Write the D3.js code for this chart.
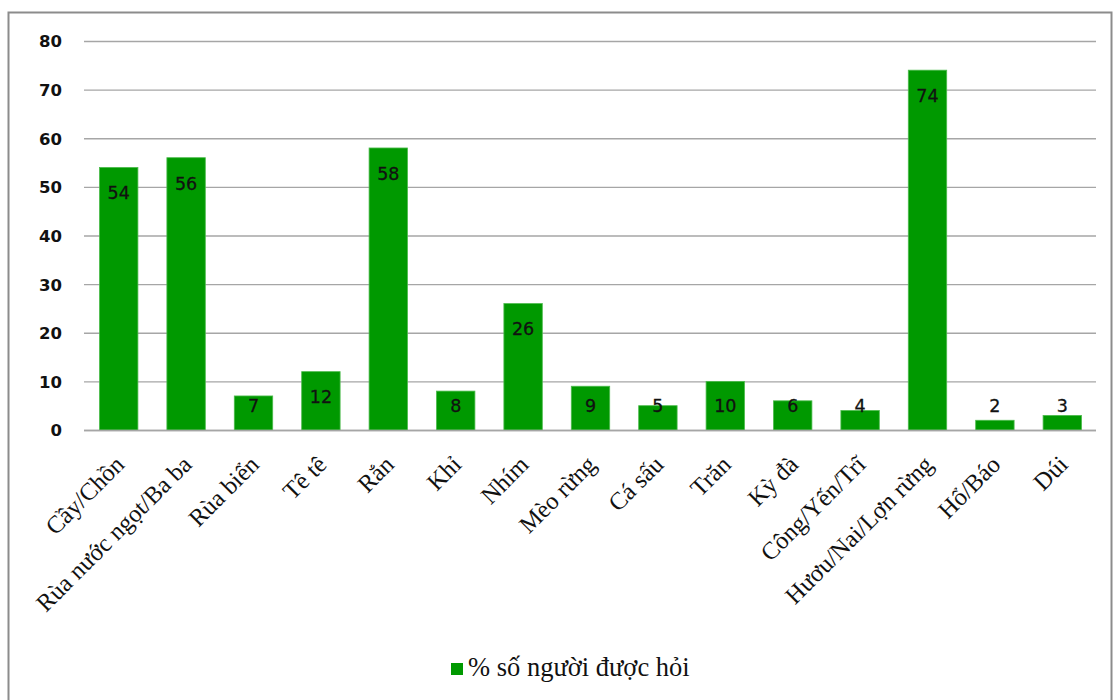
<!DOCTYPE html>
<html>
<head>
<meta charset="utf-8">
<script src="https://cdn.jsdelivr.net/npm/d3@7"></script>
<style>
  html, body { margin: 0; padding: 0; background: #fff; }
  svg { display: block; }
</style>
</head>
<body>
<svg id="chart" width="1115" height="700"></svg>
<script>
// Survey: share of respondents (%) naming each wildlife group
const categories = [
  "Cầy/Chồn", "Rùa nước ngọt/Ba ba", "Rùa biển", "Tê tê", "Rắn", "Khỉ",
  "Nhím", "Mèo rừng", "Cá sấu", "Trăn", "Kỳ đà", "Công/Yến/Trĩ",
  "Hươu/Nai/Lợn rừng", "Hổ/Báo", "Dúi"
];
const values = [54, 56, 7, 12, 58, 8, 26, 9, 5, 10, 6, 4, 74, 2, 3];
const yTicks = [0, 10, 20, 30, 40, 50, 60, 70, 80];
const seriesName = "% số người được hỏi";

const svg = d3.select("#chart");
const green = "#009900";

// outer chart frame
svg.append("rect")
  .attr("x", 8.5).attr("y", 12.5)
  .attr("width", 1103).attr("height", 700)
  .attr("fill", "#fff")
  .attr("stroke", "#8c8c8c")
  .attr("stroke-width", 2);

const x = d3.scaleBand()
  .domain(categories)
  .range([85, 1096])
  .paddingInner(0.43)
  .paddingOuter(0.215);

const y = d3.scaleLinear()
  .domain([0, 80])
  .range([430, 41]);

// horizontal gridlines
svg.append("g")
  .selectAll("line")
  .data(yTicks)
  .join("line")
  .attr("x1", 84).attr("x2", 1096)
  .attr("y1", d => y(d) + 0.5).attr("y2", d => y(d) + 0.5)
  .attr("stroke", "#a6a6a6")
  .attr("stroke-width", 1.3);

// y axis labels
const yAxis = d3.axisLeft(y).tickValues(yTicks).tickSize(0).tickPadding(0);
svg.append("g")
  .attr("transform", "translate(62,0)")
  .call(yAxis)
  .call(g => g.select(".domain").remove())
  .call(g => g.selectAll("text")
    .attr("font-family", "'DejaVu Sans', sans-serif")
    .attr("font-weight", "bold")
    .attr("font-size", 16.5)
    .attr("fill", "#111")
    .attr("dy", "0.36em"));

// bars
svg.append("g")
  .selectAll("rect")
  .data(values)
  .join("rect")
  .attr("x", (d, i) => x(categories[i]))
  .attr("y", d => y(d))
  .attr("width", x.bandwidth())
  .attr("height", d => y(0) - y(d))
  .attr("fill", green)
  .attr("stroke", "#4dbb4d")
  .attr("stroke-width", 0.8);

// value labels near the top of each bar
svg.append("g")
  .selectAll("text")
  .data(values)
  .join("text")
  .attr("x", (d, i) => x(categories[i]) + x.bandwidth() / 2)
  .attr("y", d => Math.min(y(d) + 25.5, y(0) - 24))
  .attr("dy", "0.36em")
  .attr("text-anchor", "middle")
  .attr("font-family", "'DejaVu Sans', sans-serif")
  .attr("font-size", 17.5)
  .attr("fill", "#111")
  .attr("stroke", "#111")
  .attr("stroke-width", 0.3)
  .text(d => d);

// bottom axis line
svg.append("line")
  .attr("x1", 84).attr("x2", 1096)
  .attr("y1", y(0) + 0.5).attr("y2", y(0) + 0.5)
  .attr("stroke", "#a6a6a6")
  .attr("stroke-width", 1.5);

// rotated category labels
svg.append("g")
  .selectAll("text")
  .data(categories)
  .join("text")
  .attr("transform", d => `translate(${x(d) + x.bandwidth() / 2 + 7},${466}) rotate(-45)`)
  .attr("text-anchor", "end")
  .attr("font-family", "'Liberation Serif', 'Times New Roman', serif")
  .attr("font-size", 24.5)
  .attr("fill", "#111")
  .text(d => d);

// legend
const legend = svg.append("g").attr("transform", "translate(451,663)");
legend.append("rect")
  .attr("width", 12).attr("height", 12)
  .attr("fill", green);
legend.append("text")
  .attr("x", 17).attr("y", 13)
  .attr("font-family", "'Liberation Serif', 'Times New Roman', serif")
  .attr("font-size", 26.5)
  .attr("fill", "#111")
  .text(seriesName);
</script>
</body>
</html>
